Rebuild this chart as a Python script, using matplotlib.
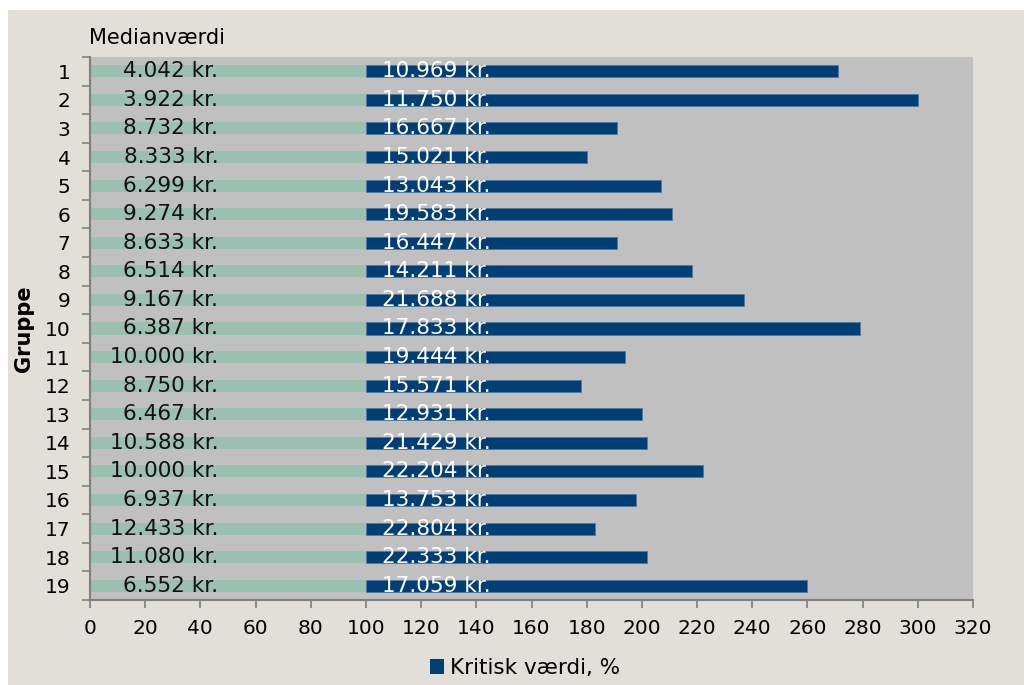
import matplotlib
matplotlib.use("Agg")
import matplotlib.pyplot as plt
from matplotlib.patches import Patch, Rectangle
import numpy as np

# Median and critical values per group (kr.) and critical value as % of median
GROUPS = [str(g) for g in range(1, 20)]
MEDIAN_KR = [4042, 3922, 8732, 8333, 6299, 9274, 8633, 6514, 9167, 6387,
             10000, 8750, 6467, 10588, 10000, 6937, 12433, 11080, 6552]
CRITICAL_KR = [10969, 11750, 16667, 15021, 13043, 19583, 16447, 14211, 21688, 17833,
               19444, 15571, 12931, 21429, 22204, 13753, 22804, 22333, 17059]
CRITICAL_PCT = [271, 300, 191, 180, 207, 211, 191, 218, 237, 279,
                194, 178, 200, 202, 222, 198, 183, 202, 260]
MEDIAN_PCT = [100] * len(GROUPS)
X_TICKS = list(range(0, 321, 20))

BG = "#e2dfd8"
PLOT_BG = "#c0c0c0"
TEAL = "#9bbfb0"
NAVY = "#003f75"
FS = 14.5
FS_BAR = 15.5


def kr(v):
    return f"{v:,}".replace(",", ".") + " kr."


fig = plt.figure(figsize=(10.24, 6.85), dpi=100, facecolor="white")
fig.patches.append(Rectangle((8 / 1024, 0), 1 - 8 / 1024, 1 - 10 / 685,
                             transform=fig.transFigure, facecolor=BG,
                             edgecolor="none", zorder=-10))

ax = fig.add_axes([90 / 1024, 1 - 600 / 685, 883 / 1024, 543 / 685])
ax.set_facecolor(PLOT_BG)

y = np.arange(len(GROUPS))
med = np.array(MEDIAN_PCT, dtype=float)
crit = np.array(CRITICAL_PCT, dtype=float)

ax.barh(y, med, height=0.42, color=TEAL, edgecolor="none")
ax.barh(y, crit - med, left=med, height=0.42, color=NAVY,
        edgecolor="#55789a", linewidth=0.6)

for i in range(len(GROUPS)):
    ax.text(46.5, y[i], kr(MEDIAN_KR[i]), ha="right", va="center",
            fontsize=FS_BAR, color="#111111")
    ax.text(106, y[i], kr(CRITICAL_KR[i]), ha="left", va="center",
            fontsize=FS_BAR, color="white")

ax.set_xlim(0, 320)
ax.set_ylim(len(GROUPS) - 0.5, -0.5)
ax.set_xticks(X_TICKS)
ax.set_xticklabels([str(t) for t in X_TICKS], fontsize=FS)
ax.set_yticks(y)
ax.set_yticklabels(GROUPS, fontsize=FS)
ax.set_yticks(np.arange(-0.5, len(GROUPS), 1), minor=True)

ax.tick_params(axis="y", which="major", length=0, pad=14)
ax.tick_params(axis="y", which="minor", length=6, color="#808080", width=1.2)
ax.tick_params(axis="x", which="major", length=6, color="#808080", width=1.2,
               pad=8)

for side in ("top", "right"):
    ax.spines[side].set_visible(False)
for side in ("left", "bottom"):
    ax.spines[side].set_color("#808080")
    ax.spines[side].set_linewidth(1.5)

ax.set_ylabel("Gruppe", fontsize=15, fontweight="bold")
ax.yaxis.set_label_coords(-56 / 883, 0.5)
fig.text(89 / 1024, 1 - 38 / 685, "Medianværdi", fontsize=15,
         ha="left", va="center")

fig.legend(handles=[Patch(facecolor=NAVY, edgecolor="none")],
           labels=["Kritisk værdi, %"], loc="center",
           bbox_to_anchor=(525 / 1024, 1 - 668 / 685), frameon=False,
           fontsize=15.5, handlelength=0.65, handleheight=0.65,
           handletextpad=0.3)

fig.savefig("out.png", dpi=100, facecolor=fig.get_facecolor())
